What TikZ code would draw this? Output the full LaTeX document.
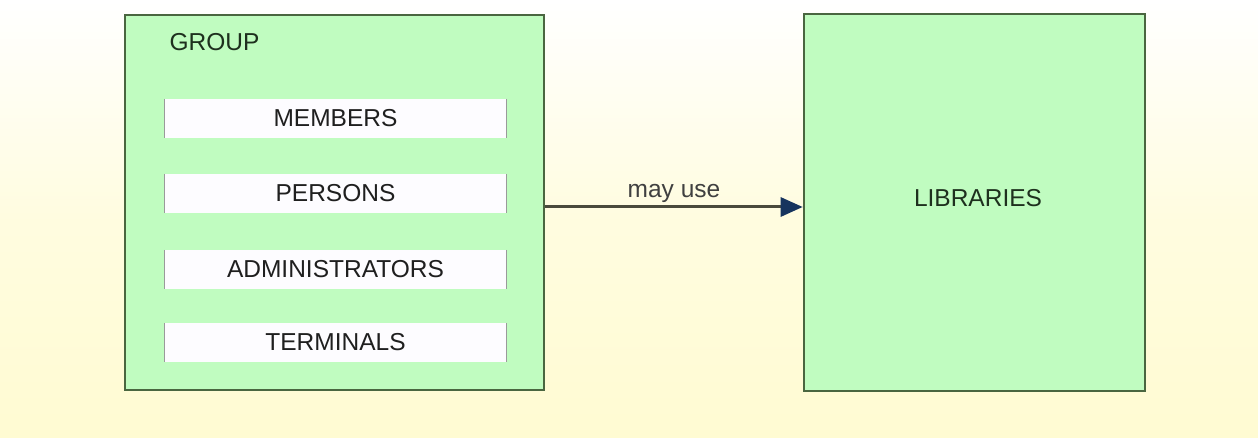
\documentclass[tikz,border=0pt]{standalone}
\usepackage{fontspec}
\setmainfont{Liberation Sans}
\usetikzlibrary{arrows.meta}
\definecolor{boxgreen}{HTML}{C0FCC0}
\definecolor{boxedge}{HTML}{4A6640}
\definecolor{labeldark}{HTML}{1E301E}
\definecolor{linegray}{HTML}{4A4A3C}
\definecolor{tipnavy}{HTML}{16345E}
\definecolor{bgbottom}{HTML}{FFFBD2}
\definecolor{sidegray}{HTML}{9A9A9A}
\definecolor{itemfill}{HTML}{FDFCFF}
\tikzset{
  bigbox/.style={draw=boxedge, line width=2.6pt, fill=boxgreen, rectangle, inner sep=0pt},
  itembox/.style={fill=itemfill, rectangle, inner sep=0pt, minimum width=341pt, minimum height=39pt, text=black!88},
  lbl/.style={font=\fontsize{24.5}{28}\selectfont},
  flow/.style={draw=linegray, line width=3pt, -{Triangle[length=22pt,width=19pt,color=tipnavy]}}
}
\begin{document}
\begin{tikzpicture}[x=1pt,y=-1pt]
\shade[top color=white, bottom color=bgbottom, middle color=bgbottom!70!white] (0,0) rectangle (1258,438);
\useasboundingbox (0,0) rectangle (1258,438);
\node[bigbox, minimum width=419pt, minimum height=375pt] (group) at (334.5,202.5) {};
\node[bigbox, minimum width=341pt, minimum height=377pt] (lib) at (974.5,202.5) {};
\node[lbl, text=labeldark, anchor=west] (grouplbl) at (166,42) {GROUP};
\node[lbl, text=labeldark] (liblbl) at (978,198) {LIBRARIES};
\foreach \n/\t/\y in {mem/MEMBERS/118.5, per/PERSONS/193.5, adm/ADMINISTRATORS/269.5, ter/TERMINALS/342.5}{
  \node[itembox, lbl] (\n) at (335.5,\y) {\t};
  \draw[sidegray, line width=1pt] (\n.north west) -- (\n.south west);
  \draw[sidegray, line width=1pt] (\n.north east) -- (\n.south east);
}
\draw[flow] ([yshift=-4.5pt]group.east) -- node[lbl, above=0pt, text=black!75] (uselbl) {may use} ([yshift=-4.5pt]lib.west);
\end{tikzpicture}
\end{document}
